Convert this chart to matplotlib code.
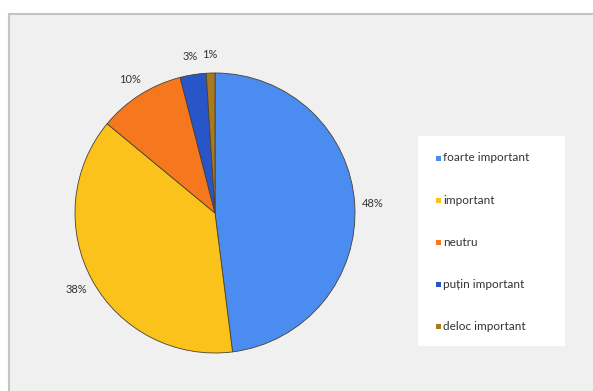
import matplotlib
matplotlib.use("Agg")
import matplotlib.pyplot as plt
from matplotlib.patches import Rectangle

categories = ["foarte important", "important", "neutru", "puțin important", "deloc important"]
values = [48, 38, 10, 3, 1]
colors = ["#4a8cf0", "#fcc21c", "#f5781e", "#2856c8", "#a8791e"]

W, H = 593, 391
fig = plt.figure(figsize=(W / 100, H / 100), dpi=100, facecolor="white")

# panel background
fig.patches.append(Rectangle((9 / W, -0.05), 1.0, (H - 14) / H + 0.05, transform=fig.transFigure,
                             facecolor="#f0f0f0", edgecolor="#c4c4c4", linewidth=1.5, zorder=-2))

cx, cy, r = 215, 213, 140
ax = fig.add_axes([(cx - r) / W, (H - cy - r) / H, 2 * r / W, 2 * r / H])
ax.set_facecolor("none")
ax.set_zorder(1)
wedges, texts, autotexts = ax.pie(values, colors=colors, startangle=90, counterclock=False,
                                  autopct=lambda p: f"{p:.0f}%", pctdistance=1.13,
                                  wedgeprops=dict(edgecolor="#4a4030", linewidth=0.6),
                                  textprops=dict(fontsize=8, color="#333333", family="Lato"))
ax.set_xlim(-1, 1)
ax.set_ylim(-1, 1)
ax.set_aspect("equal")

# legend box
fig.patches.append(Rectangle((418 / W, (H - 346) / H), 147 / W, 210 / H, transform=fig.transFigure,
                             facecolor="white", edgecolor="none", zorder=-1))
ys = [158, 200, 242, 284, 326]
for lab, col, y in zip(categories, colors, ys):
    fig.patches.append(Rectangle((436 / W, (H - y - 2.5) / H), 5 / W, 5 / H, transform=fig.transFigure,
                                 facecolor=col, edgecolor="none", zorder=2))
    fig.text(443 / W, (H - y) / H, lab, fontsize=8.5, color="#333333", family="Lato",
             va="center", ha="left", zorder=3)

fig.savefig("out.png", dpi=100, facecolor="white")
